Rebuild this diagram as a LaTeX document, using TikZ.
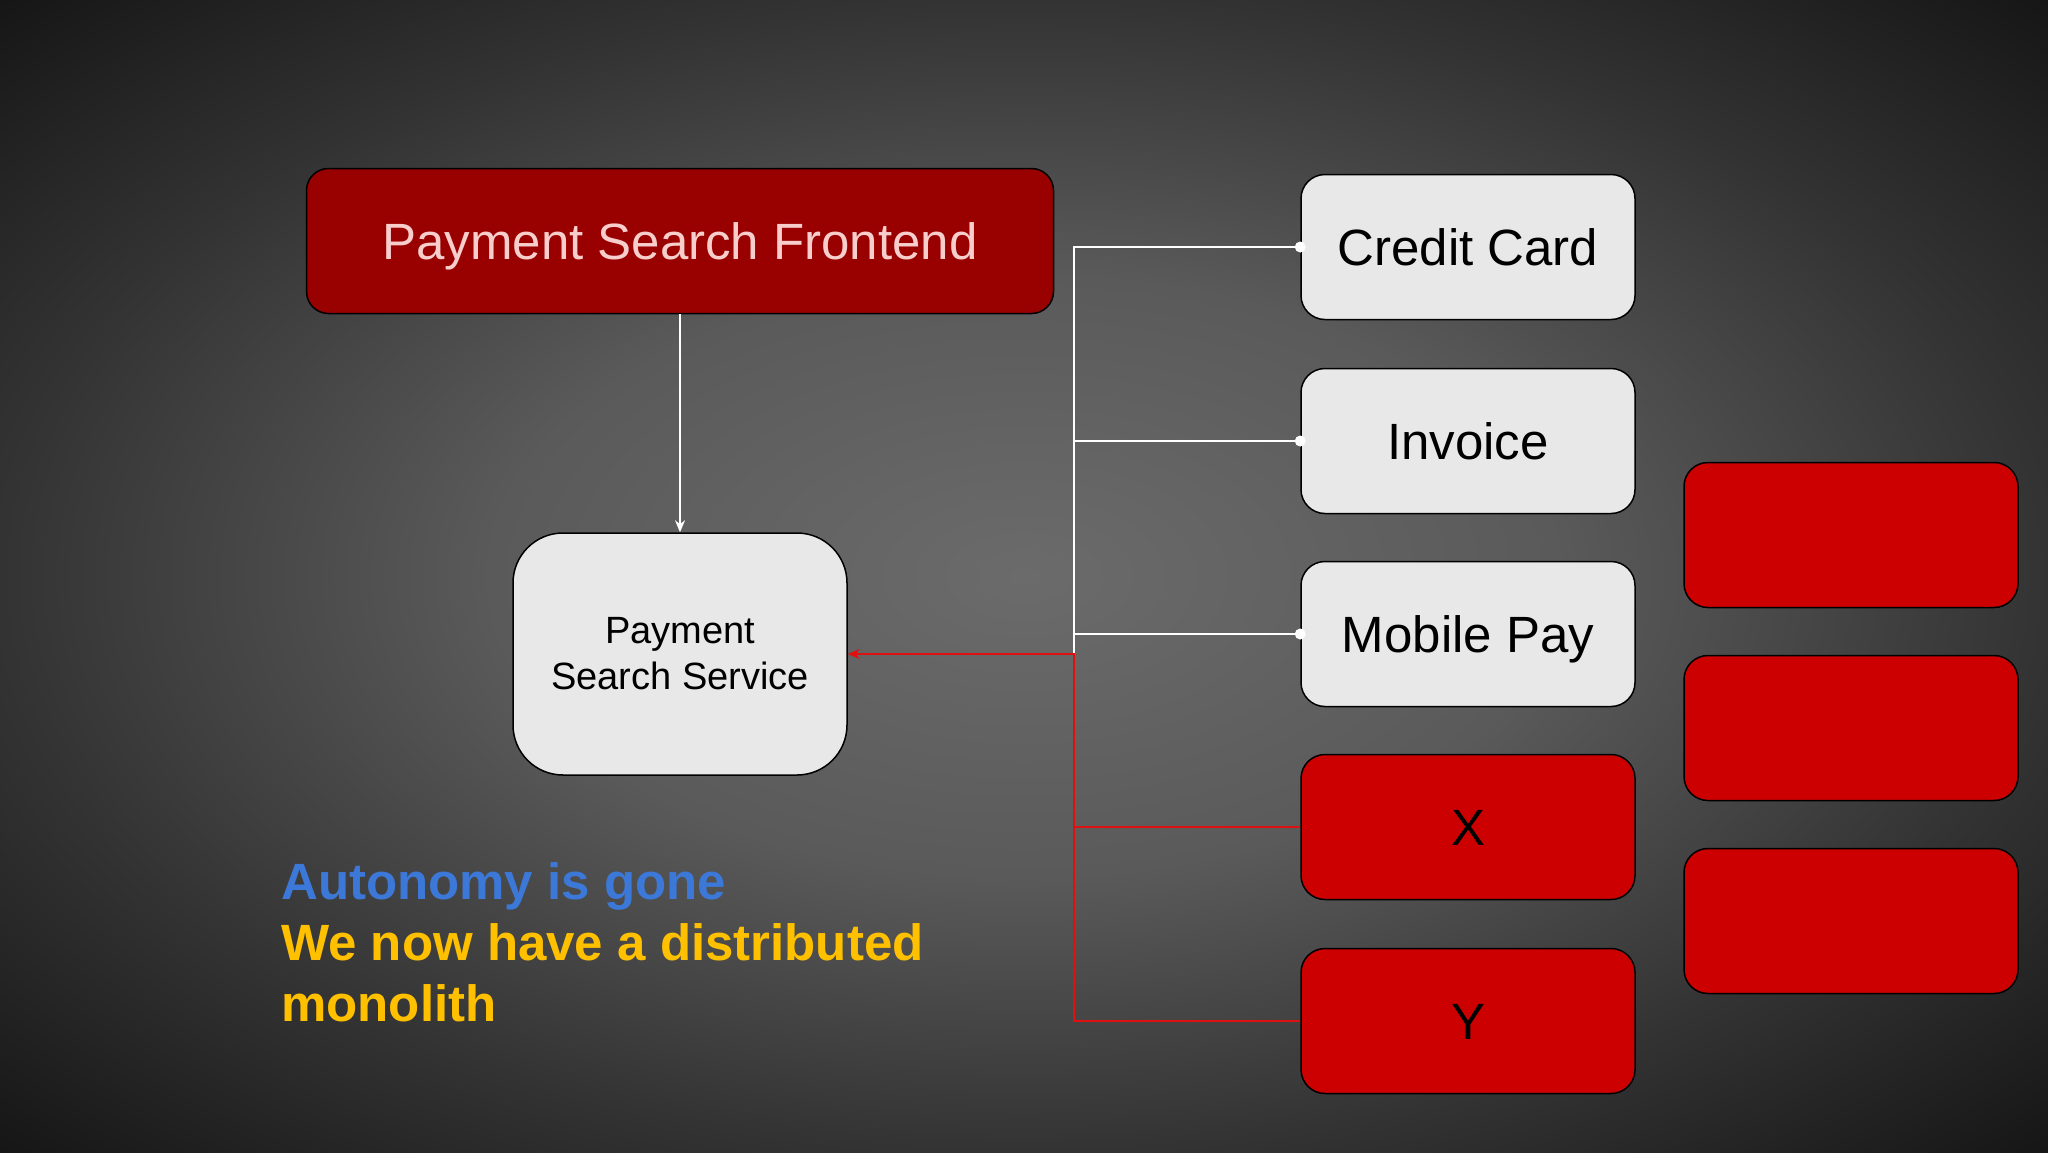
\documentclass[tikz,border=0pt]{standalone}
\usepackage{fontspec}
\setmainfont{Liberation Sans}
\usetikzlibrary{arrows.meta}
\definecolor{bgA}{HTML}{6B6B6B}
\definecolor{bgM}{HTML}{5A5A5A}
\definecolor{bgB}{HTML}{333333}
\definecolor{bgC}{HTML}{141414}
\definecolor{boxgray}{HTML}{E8E8E8}
\definecolor{boxred}{HTML}{CC0000}
\definecolor{darkred}{HTML}{990000}
\definecolor{pinktxt}{HTML}{F8CECC}
\definecolor{autoblue}{HTML}{3C78D8}
\definecolor{yellowtxt}{HTML}{FFC000}
\definecolor{wirered}{HTML}{E01010}
\pgfdeclareradialshading{bgshade}{\pgfpoint{0bp}{0bp}}{color(0bp)=(bgA); color(13bp)=(bgM); color(25bp)=(bgB); color(36bp)=(bgC); color(50bp)=(bgC)}
\tikzset{
  box/.style={draw=black, line width=1.5pt, rounded corners=24pt, minimum width=334pt, minimum height=145pt, inner sep=0pt, font=\fontsize{51}{61}\selectfont, text height=36.5pt, text depth=0pt},
  lightbox/.style={box, fill=boxgray, text=black},
  redbox/.style={box, fill=boxred, text=black},
  wire/.style={draw=white, line width=2.5pt},
  redwire/.style={draw=wirered, line width=2.5pt},
  tip/.style={-{Stealth[length=12pt,width=10pt]}},
  msgtext/.style={anchor=base west, inner sep=0pt, font=\bfseries\fontsize{51}{61}\selectfont}
}
\begin{document}
\begin{tikzpicture}[x=1pt,y=-1pt]
\useasboundingbox (0,0) rectangle (2048,1152);
\shade[shading=bgshade] (0,0) rectangle (2048,1152);

\node[box, fill=darkred, text=pinktxt, minimum width=747pt, rounded corners=22pt] (fe) at (680,241) {Payment Search Frontend};
\node[draw=black, line width=1.5pt, fill=boxgray, text=black, minimum width=334pt, minimum height=242pt, inner sep=0pt, rounded corners=50pt, align=center, font=\fontsize{38}{46}\selectfont] (svc) at (680,654) {\raisebox{-3pt}{Payment}\\\raisebox{-3pt}{Search Service}};

\node[lightbox] (cc) at (1468,247) {Credit Card};
\node[lightbox] (inv) at (1468,441) {Invoice};
\node[lightbox] (mp) at (1468,634) {Mobile Pay};
\node[redbox] (xx) at (1468,827) {X};
\node[redbox] (yy) at (1468,1021) {Y};

\node[redbox] (r1) at (1851,535) {};
\node[redbox] (r2) at (1851,728) {};
\node[redbox] (r3) at (1851,921) {};

\coordinate (bus) at (1074,654);

\draw[wire, tip] (fe.south) -- (svc.north);
\draw[wire] (cc.west) -| (bus);
\draw[wire] (inv.west) -- (inv.west -| bus);
\draw[wire] (mp.west) -- (mp.west -| bus);
\fill[white] (cc.west) circle (5.5pt);
\fill[white] (inv.west) circle (5.5pt);
\fill[white] (mp.west) circle (5.5pt);

\draw[redwire] (xx.west) -- (xx.west -| bus);
\draw[redwire, tip] (yy.west) -| (bus) -- (svc.east);

\node[msgtext, text=autoblue] (m1) at (281,899) {Autonomy is gone};
\node[msgtext, text=yellowtxt] (m2) at (281,960) {We now have a distributed};
\node[msgtext, text=yellowtxt] (m3) at (281,1021) {monolith};
\end{tikzpicture}
\end{document}
